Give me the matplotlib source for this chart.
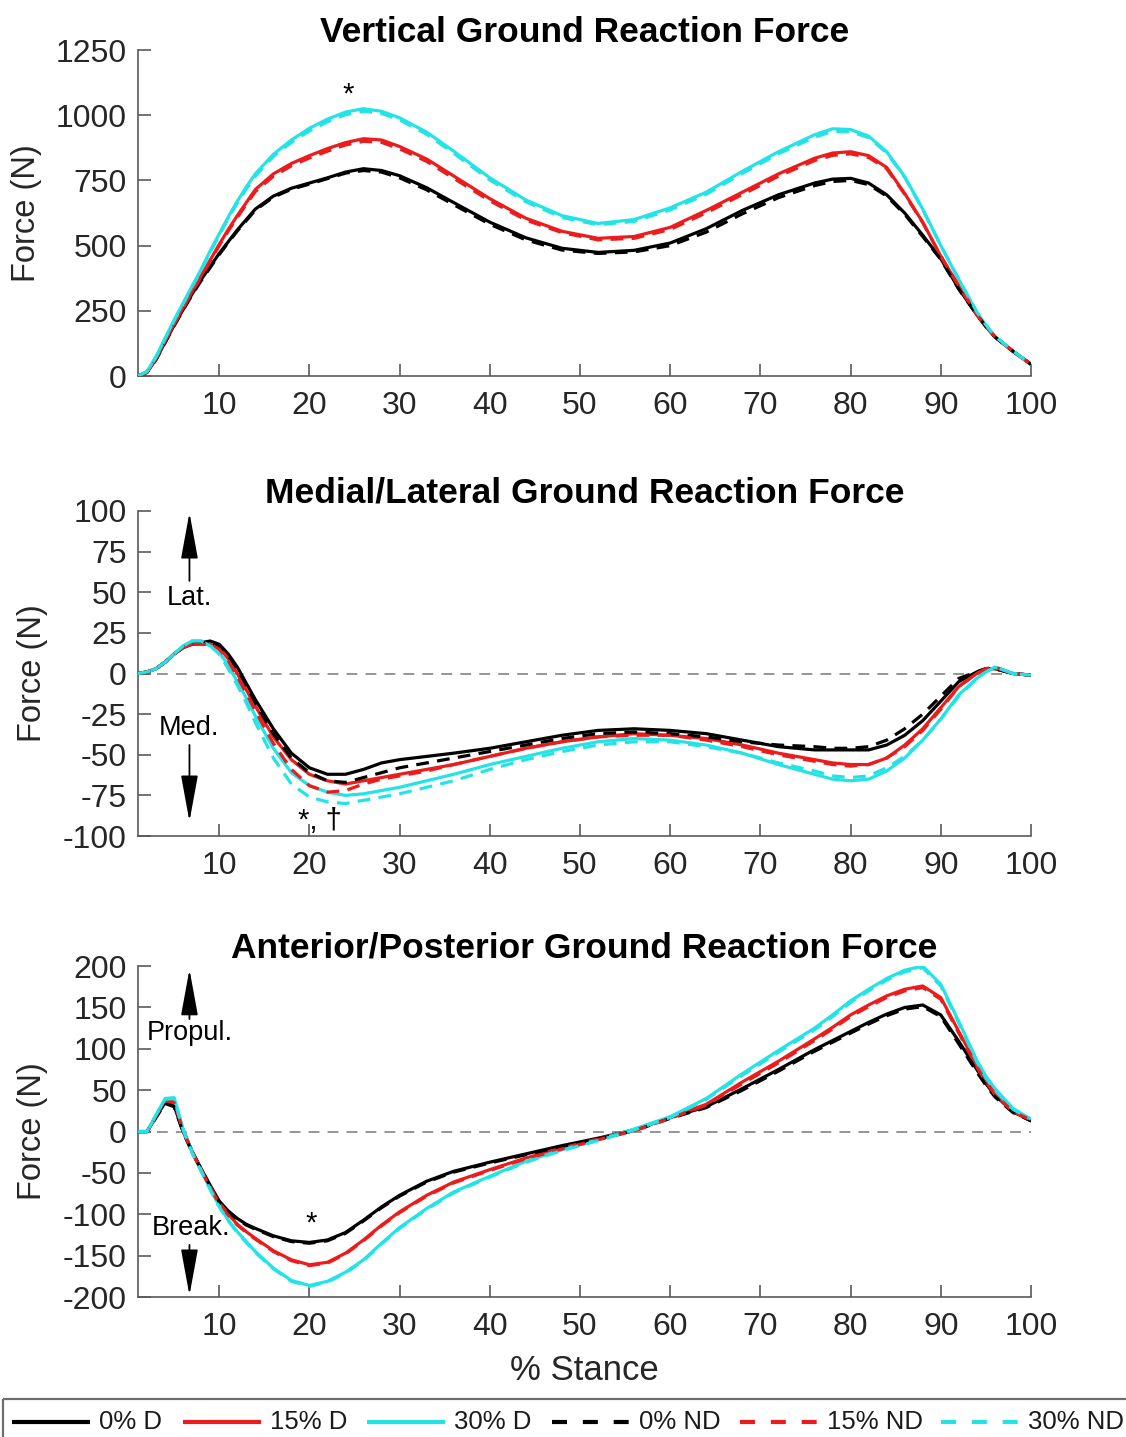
import numpy as np
import matplotlib.pyplot as plt
from matplotlib.patches import Rectangle

# % stance sample points
stance = [1, 2, 3, 4, 5, 6, 7, 8, 9, 10, 11, 12, 13, 14, 16, 18, 20, 22, 24, 26, 28, 30, 33, 36,
          40, 44, 48, 52, 56, 60, 64, 68, 72, 76, 78, 80, 82, 84, 86, 88, 90, 92, 94, 95, 96, 98, 100]

# vertical GRF (N)
vert_0D = [0, 15, 65, 130, 195, 255, 315, 370, 420, 470, 515, 560, 600, 640, 690, 720, 740, 760, 782, 795, 788, 768, 722, 665,
           590, 530, 490, 474, 482, 510, 565, 635, 695, 740, 755, 758, 740, 695, 625, 540, 450, 335, 235, 190, 150, 95, 45]
vert_15D = [0, 15, 68, 135, 200, 262, 325, 385, 445, 505, 562, 615, 665, 715, 775, 815, 845, 872, 895, 910, 905, 880, 832, 767,
            680, 605, 555, 528, 535, 570, 635, 705, 775, 835, 855, 860, 845, 800, 700, 590, 460, 345, 235, 190, 150, 95, 45]
vert_30D = [0, 18, 75, 145, 215, 280, 345, 410, 480, 545, 610, 670, 725, 775, 850, 905, 950, 985, 1012, 1025, 1015, 990, 935, 862,
            760, 675, 615, 585, 600, 645, 705, 785, 860, 925, 948, 945, 920, 860, 765, 640, 500, 370, 245, 195, 152, 95, 45]
vert_0ND = [0, 14, 63, 128, 193, 253, 312, 366, 416, 466, 512, 556, 596, 636, 686, 716, 736, 757, 778, 788, 782, 760, 714, 657,
            582, 522, 483, 470, 476, 500, 552, 622, 684, 730, 746, 750, 734, 690, 620, 535, 447, 333, 235, 190, 150, 95, 45]
vert_15ND = [0, 15, 67, 133, 198, 260, 322, 381, 440, 500, 556, 608, 658, 707, 766, 806, 836, 862, 886, 900, 896, 871, 823, 758,
             672, 598, 550, 522, 528, 562, 626, 696, 766, 826, 846, 852, 838, 795, 697, 588, 460, 346, 236, 191, 151, 96, 45]
vert_30ND = [0, 17, 73, 143, 212, 277, 342, 406, 475, 540, 604, 663, 717, 767, 842, 896, 940, 975, 1002, 1015, 1007, 982, 927, 854,
             752, 668, 608, 580, 593, 637, 697, 777, 852, 916, 938, 937, 914, 856, 762, 638, 500, 371, 246, 196, 153, 96, 45]

# medial/lateral GRF (N)
ml_0D = [0, 1, 3, 7, 12, 16, 18, 19, 20, 18, 12, 4, -6, -16, -34, -49, -58, -62, -62, -59, -55, -53, -51, -49,
         -46, -42, -38, -35, -34, -35, -37, -41, -45, -47, -47, -47, -47, -44, -38, -29, -17, -5, 1, 3, 3, 0, -1]
ml_15D = [0, 1, 3, 7, 12, 16, 18, 18, 18, 16, 9, 0, -10, -20, -39, -53, -62, -66, -68, -66, -64, -62, -59, -56,
          -51, -46, -42, -39, -37, -38, -40, -44, -49, -53, -55, -56, -56, -52, -44, -34, -21, -8, 0, 3, 3, 0, -1]
ml_30D = [0, 1, 3, 7, 12, 17, 20, 20, 17, 13, 5, -5, -15, -26, -46, -61, -69, -73, -75, -74, -72, -70, -66, -62,
          -56, -51, -46, -42, -40, -41, -44, -49, -56, -62, -65, -66, -65, -60, -52, -41, -28, -13, -3, 1, 4, 0, -1]
ml_0ND = [0, 1, 3, 7, 12, 16, 18, 19, 19, 17, 11, 3, -7, -18, -37, -52, -61, -66, -67, -64, -61, -58, -55, -52,
          -48, -44, -40, -37, -36, -37, -39, -42, -44, -45, -46, -46, -45, -41, -34, -25, -14, -3, 1, 3, 3, 0, -1]
ml_15ND = [0, 1, 3, 7, 12, 16, 18, 18, 18, 15, 8, -2, -12, -23, -43, -59, -69, -73, -72, -68, -65, -63, -60, -56,
           -51, -46, -42, -39, -38, -38, -41, -45, -50, -54, -56, -57, -56, -52, -45, -35, -22, -8, 0, 3, 4, 0, -1]
ml_30ND = [0, 1, 3, 7, 12, 17, 20, 20, 17, 12, 3, -7, -18, -30, -52, -68, -76, -79, -80, -78, -76, -74, -70, -66,
           -59, -53, -48, -44, -42, -42, -45, -49, -55, -60, -63, -64, -63, -58, -51, -41, -28, -14, -3, 1, 4, 0, -1]

# anterior/posterior GRF (N)
ap_0D = [0, 0, 18, 35, 31, 0, -24, -45, -65, -84, -96, -105, -112, -117, -126, -132, -134, -131, -122, -107, -91, -77, -60, -48,
         -37, -27, -17, -8, 2, 17, 30, 52, 75, 99, 110, 121, 132, 142, 150, 153, 141, 109, 75, 58, 44, 24, 13]
ap_15D = [0, 0, 19, 38, 36, 2, -24, -46, -67, -86, -100, -112, -121, -129, -144, -155, -161, -158, -147, -131, -113, -97, -77, -61,
          -46, -32, -20, -9, 2, 17, 33, 60, 85, 112, 126, 141, 153, 164, 172, 176, 162, 121, 80, 62, 47, 25, 14]
ap_30D = [0, 0, 20, 40, 41, 3, -25, -47, -69, -90, -107, -121, -133, -145, -165, -180, -186, -181, -170, -155, -135, -116, -93, -73,
          -54, -36, -22, -10, 3, 18, 40, 70, 98, 125, 141, 158, 172, 185, 195, 200, 178, 133, 86, 67, 52, 28, 15]
ap_0ND = [0, 0, 17, 34, 30, -1, -25, -46, -66, -85, -97, -106, -113, -118, -127, -133, -135, -132, -123, -108, -92, -78, -61, -49,
          -38, -28, -18, -9, 1, 16, 29, 50, 73, 97, 108, 119, 130, 140, 148, 151, 139, 106, 72, 56, 42, 23, 13]
ap_15ND = [0, 0, 19, 37, 35, 1, -25, -47, -68, -87, -101, -113, -122, -130, -145, -156, -162, -159, -148, -132, -114, -98, -78, -62,
           -47, -33, -21, -10, 1, 16, 32, 58, 83, 110, 124, 139, 151, 162, 170, 174, 160, 119, 78, 60, 45, 24, 14]
ap_30ND = [0, 0, 20, 39, 40, 2, -26, -48, -70, -91, -108, -122, -134, -146, -166, -181, -187, -182, -171, -156, -136, -117, -94, -74,
           -55, -37, -23, -11, 2, 17, 39, 68, 96, 123, 139, 156, 170, 183, 193, 198, 176, 131, 84, 65, 50, 27, 15]

labels = ['0% D', '15% D', '30% D', '0% ND', '15% ND', '30% ND']
colors = ['black', '#ec1c1c', '#22e3e6', 'black', '#ec1c1c', '#22e3e6']
styles = ['-', '-', '-', '--', '--', '--']

plt.rcParams['font.family'] = ['Liberation Sans', 'DejaVu Sans']
plt.rcParams['axes.unicode_minus'] = False

fig = plt.figure(figsize=(11.26, 14.37), dpi=100)
ax1 = fig.add_axes([0.1226, 0.7383, 0.7930, 0.2269])
ax2 = fig.add_axes([0.1226, 0.4182, 0.7930, 0.2262])
ax3 = fig.add_axes([0.1226, 0.0974, 0.7930, 0.2303])

panels = [
    (ax1, [vert_0D, vert_15D, vert_30D, vert_0ND, vert_15ND, vert_30ND],
     'Vertical Ground Reaction Force', (0, 1250), np.arange(0, 1251, 250), -0.125),
    (ax2, [ml_0D, ml_15D, ml_30D, ml_0ND, ml_15ND, ml_30ND],
     'Medial/Lateral Ground Reaction Force', (-100, 100), np.arange(-100, 101, 25), -0.118),
    (ax3, [ap_0D, ap_15D, ap_30D, ap_0ND, ap_15ND, ap_30ND],
     'Anterior/Posterior Ground Reaction Force', (-200, 200), np.arange(-200, 201, 50), -0.118),
]

axis_gray = '#5a5a5a'
for ax, series, title, ylim, yticks, ylab_x in panels:
    if ylim[0] < 0:
        ax.axhline(0, color='#8c8c8c', lw=1.3, ls=(0, (6, 4.5)), zorder=1)
    for y, c, s in zip(series, colors, styles):
        if s == '--':
            ax.plot(stance, y, color=c, lw=2.3, ls=(0, (4, 2.6)), zorder=3)
        else:
            ax.plot(stance, y, color=c, lw=2.3, zorder=2)
    ax.set_xlim(1, 100)
    ax.set_ylim(*ylim)
    ax.set_xticks(np.arange(10, 101, 10))
    ax.set_yticks(yticks)
    ax.set_title(title, fontsize=25.5, fontweight='bold', pad=6)
    ax.set_ylabel('Force (N)', fontsize=23.5, va='center', color='#262626')
    ax.yaxis.set_label_coords(ylab_x, 0.5)
    for side in ['top', 'right']:
        ax.spines[side].set_visible(False)
    for side in ['left', 'bottom']:
        ax.spines[side].set_color(axis_gray)
        ax.spines[side].set_linewidth(1.2)
    ax.tick_params(direction='in', length=9, width=1.2, color=axis_gray,
                   labelsize=23, labelcolor='#262626', pad=8)
    ax.tick_params(axis='x', pad=11)

# direction arrows and labels
arrow = dict(arrowstyle='-|>,head_width=0.22,head_length=1.2', color='black', lw=1.3,
             mutation_scale=24, shrinkA=0, shrinkB=0)
ax2.annotate('', xy=(6.7, 99), xytext=(6.7, 57), arrowprops=arrow)
ax2.text(6.7, 46.5, 'Lat.', ha='center', va='center', fontsize=19.5)
ax2.text(6.7, -33.5, 'Med.', ha='center', va='center', fontsize=19.5)
ax2.annotate('', xy=(6.7, -91), xytext=(6.7, -44), arrowprops=arrow)

ax3.annotate('', xy=(6.7, 196), xytext=(6.7, 136), arrowprops=arrow)
ax3.text(2.0, 119, 'Propul.', ha='left', va='center', fontsize=19.5)
ax3.text(2.5, -117, 'Break.', ha='left', va='center', fontsize=19.5)
ax3.annotate('', xy=(6.7, -198), xytext=(6.7, -137), arrowprops=arrow)

# significance markers
ax1.text(24.3, 1078, '*', ha='center', va='center', fontsize=21)
ax2.text(21.2, -91, '*, \u2020', ha='center', va='center', fontsize=21)
ax3.text(20.2, -111, '*', ha='center', va='center', fontsize=21)

ax3.set_xlabel('% Stance', fontsize=25, va='center', color='#262626')
ax3.xaxis.set_label_coords(0.5, -0.221)

# legend strip along the bottom, laid out in pixel units
lg = fig.add_axes([0, 0, 1, 1])
lg.set_xlim(0, 1126)
lg.set_ylim(1437, 0)
lg.axis('off')
lg.add_patch(Rectangle((3, 1399), 1135, 60, fill=False, edgecolor='#6e6e6e', lw=1.6, clip_on=False))
handle_x = [12, 183, 367, 552, 740, 941]
for hx, lab, c, s in zip(handle_x, labels, colors, styles):
    if s == '--':
        lg.plot([hx, hx + 78], [1422, 1422], color=c, lw=3.0, ls=(0, (3.6, 3.8)), solid_capstyle='butt')
    else:
        lg.plot([hx, hx + 78], [1422, 1422], color=c, lw=3.0, solid_capstyle='butt')
    lg.text(hx + 87, 1422, lab, ha='left', va='center', fontsize=18.5, color='#1a1a1a')

fig.savefig('out.png', dpi=100)
